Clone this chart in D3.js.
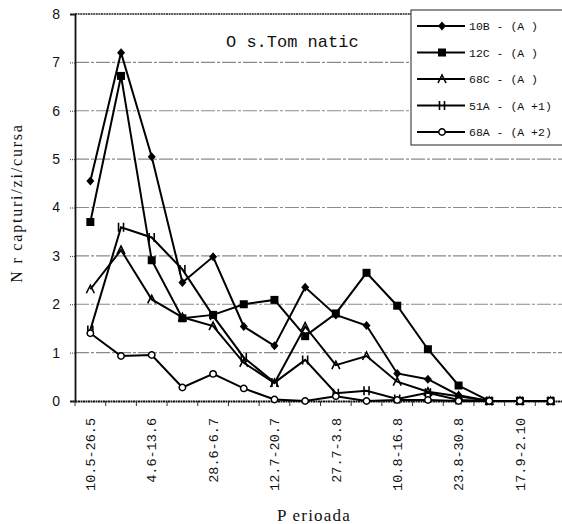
<!DOCTYPE html>
<html><head><meta charset="utf-8">
<script src="https://cdnjs.cloudflare.com/ajax/libs/d3/7.8.5/d3.min.js"></script>
<style>body{margin:0;background:#fff}svg{display:block}</style>
</head><body><svg id="c" width="562" height="524"></svg>
<script>
const categories = ["10.5-26.5","27.5-3.6","4.6-13.6","14.6-27.6","28.6-6.7","7.7-11.7","12.7-20.7","21.7-26.7","27.7-3.8","4.8-9.8","10.8-16.8","17.8-22.8","23.8-30.8","31.8-16.9","17.9-2.10","3.10-15.10"];
const labeledCategories = ["10.5-26.5","4.6-13.6","28.6-6.7","12.7-20.7","27.7-3.8","10.8-16.8","23.8-30.8","17.9-2.10"];
const yTicks = [0,1,2,3,4,5,6,7,8];
const seriesNames = ["10B - (A )","12C - (A )","68C - (A )","51A - (A +1)","68A - (A +2)"];
const s10B = [4.55,7.2,5.05,2.45,2.98,1.54,1.14,2.35,1.78,1.56,0.57,0.45,0.12,0,0,0];
const s12C = [3.7,6.72,2.91,1.71,1.78,2.0,2.09,1.34,1.81,2.65,1.97,1.07,0.32,0,0,0];
const s68C = [2.31,3.12,2.1,1.73,1.55,0.79,0.37,1.54,0.74,0.93,0.4,0.19,0.1,0,0,0];
const s51A = [1.47,3.59,3.38,2.72,1.76,0.9,0.38,0.85,0.16,0.21,0.04,0.17,0.02,0,0,0];
const s68A = [1.4,0.93,0.95,0.28,0.56,0.26,0.03,0,0.1,0,0.02,0.02,0,0,0,0];
const seriesValues = [s10B,s12C,s68C,s51A,s68A];
const markerTypes = ["diamond","square","caret","hbar","circle"];

const svg = d3.select("#c");
const x = d3.scaleBand().domain(categories).range([75,566]).padding(0);
const y = d3.scaleLinear().domain([0,8]).range([401,14]);
const bw = x.bandwidth();
const cx = c => x(c) + bw/2;

// gridlines
svg.append("g").selectAll("line").data(yTicks.filter(v=>v>0&&v<8)).join("line")
  .attr("x1",75).attr("x2",562).attr("y1",d=>y(d)).attr("y2",d=>y(d))
  .attr("stroke","#8a8a8a").attr("stroke-width",1.2).attr("stroke-dasharray","14,2,3,2");
// top frame
svg.append("line").attr("x1",75).attr("x2",562).attr("y1",y(8)).attr("y2",y(8))
  .attr("stroke","#222").attr("stroke-width",1.6).attr("stroke-dasharray","2,0.6");

// y axis
const yAxis = d3.axisLeft(y).tickValues(yTicks).tickSize(5).tickPadding(10).tickFormat(d3.format("d"));
const gy = svg.append("g").attr("transform","translate(75,0)").call(yAxis);
gy.select(".domain").attr("stroke","#111").attr("stroke-width",1.8);
gy.selectAll(".tick line").attr("stroke","#333").attr("stroke-dasharray","1,1");
gy.selectAll("text").attr("font-family","Liberation Sans, Arial, sans-serif").attr("font-size",14).attr("fill","#111");

// x axis
const xAxis = d3.axisBottom(x).tickValues(labeledCategories).tickSize(0).tickFormat(d=>d);
const gx = svg.append("g").attr("transform","translate(0,401)").call(xAxis);
gx.select(".domain").attr("stroke","#111").attr("stroke-width",2).attr("stroke-dasharray","2,0.5");
gx.selectAll(".tick text")
  .attr("font-family","Liberation Mono, Courier New, monospace").attr("font-size",13.5).attr("fill","#111")
  .attr("text-anchor","end").attr("transform","translate(0,17) rotate(-90)").attr("x",0).attr("y",0).attr("dy","0.35em");
// band boundary ticks
gx.append("g").selectAll("line").data(categories).join("line")
  .attr("x1",d=>x(d)).attr("x2",d=>x(d)).attr("y1",0).attr("y2",5)
  .attr("stroke","#333").attr("stroke-width",1);

// labels
svg.append("text").attr("transform","translate(22,203) rotate(-90)").attr("text-anchor","middle")
  .attr("font-family","Liberation Serif, Times New Roman, serif").attr("font-size",16).attr("letter-spacing",1.8).attr("fill","#111")
  .text("N r capturi/zi/cursa");
svg.append("text").attr("x",314).attr("y",521).attr("text-anchor","middle")
  .attr("font-family","Liberation Serif, Times New Roman, serif").attr("font-size",17).attr("letter-spacing",1.2).attr("fill","#111")
  .text("P erioada");
svg.append("text").attr("x",226).attr("y",47)
  .attr("font-family","Liberation Mono, Courier New, monospace").attr("font-size",17).attr("fill","#111")
  .text("O s.Tom natic");

function drawMarker(g, type){
  if(type==="diamond") g.append("path").attr("d","M0,-4.5L4,0L0,4.5L-4,0Z").attr("fill","#000");
  else if(type==="square") g.append("rect").attr("x",-4).attr("y",-4).attr("width",8).attr("height",8).attr("fill","#000");
  else if(type==="caret") g.append("path").attr("d","M-4,4L0,-4L4,4").attr("fill","none").attr("stroke","#000").attr("stroke-width",1.6);
  else if(type==="hbar") g.append("path").attr("d","M-2.5,-4.5V4.5M2.5,-4.5V4.5").attr("fill","none").attr("stroke","#000").attr("stroke-width",1.6);
  else if(type==="circle") g.append("circle").attr("r",3.2).attr("fill","#fff").attr("stroke","#000").attr("stroke-width",1.5);
}

const line = d3.line().x((d,i)=>cx(categories[i])).y(d=>y(d));
seriesValues.forEach((vals,si)=>{
  const g = svg.append("g");
  g.append("path").attr("d",line(vals)).attr("fill","none").attr("stroke","#000").attr("stroke-width",2);
  vals.forEach((v,i)=>{
    const m = g.append("g").attr("transform",`translate(${cx(categories[i])},${y(v)})`);
    drawMarker(m, markerTypes[si]);
  });
});

// legend
const lg = svg.append("g");
lg.append("rect").attr("x",411).attr("y",10).attr("width",160).attr("height",135)
  .attr("fill","#fff").attr("stroke","#222").attr("stroke-width",1);
seriesNames.forEach((n,i)=>{
  const yy = 26 + i*26.5;
  lg.append("line").attr("x1",417).attr("x2",465).attr("y1",yy).attr("y2",yy).attr("stroke","#000").attr("stroke-width",2);
  drawMarker(lg.append("g").attr("transform",`translate(442,${yy})`), markerTypes[i]);
  lg.append("text").attr("x",469).attr("y",yy).attr("dy","0.35em")
    .attr("font-family","Liberation Mono, Courier New, monospace").attr("font-size",11.5).attr("fill","#111").text(n);
});
</script></body></html>
